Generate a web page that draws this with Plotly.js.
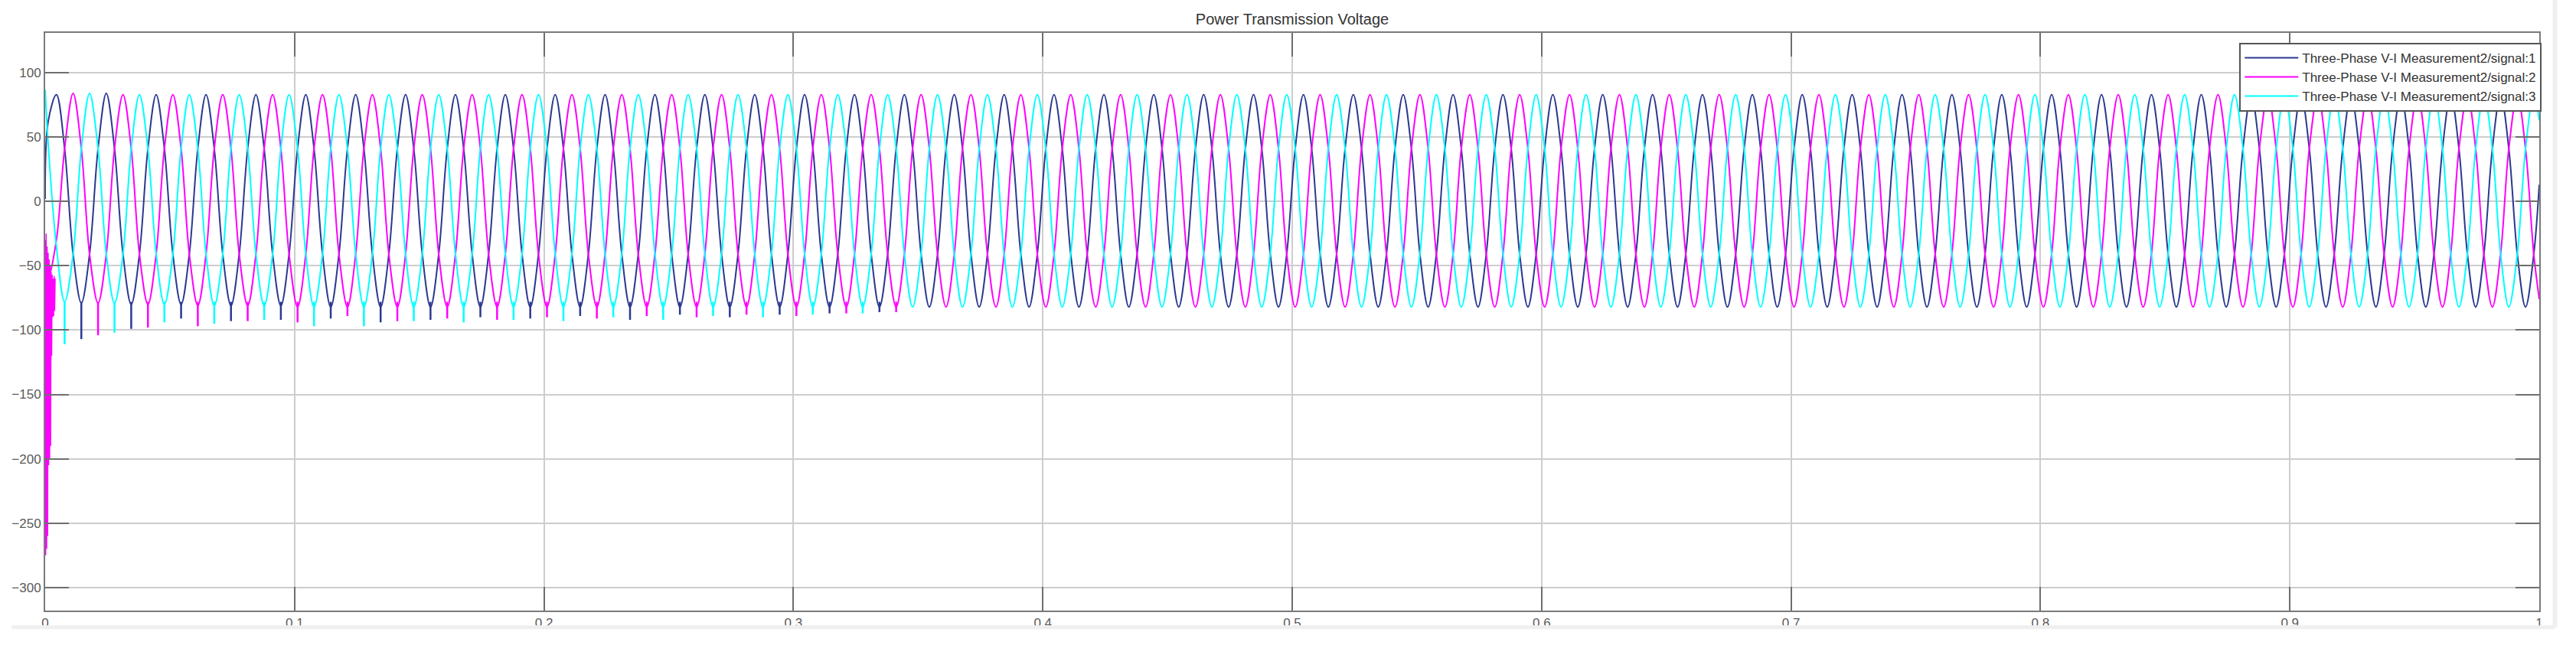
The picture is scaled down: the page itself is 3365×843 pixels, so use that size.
<!DOCTYPE html>
<html>
<head>
<meta charset="utf-8">
<script src="https://cdn.plot.ly/plotly-3.0.1.min.js"></script>
<style>
  html, body { margin: 0; padding: 0; background: #fff; }
  #chart { width: 3365px; height: 843px; }
</style>
</head>
<body>
<div id="chart"></div>
<script>
// Power Transmission Voltage - scope capture, three phases
// samples every 1/6 cycle (50 Hz)

var time = [0,
  0.0012,0.0045,0.0078,0.0112,0.0145,0.0178,0.0212,0.0245,0.0278,0.0312,0.0345,0.0378,0.0412,0.0445,0.0478,0.0512,0.0545,0.0578,0.0612,0.0645,0.0678,0.0712,0.0745,0.0778,0.0812,0.0845,0.0878,0.0912,0.0945,0.0978,
  0.1012,0.1045,0.1078,0.1112,0.1145,0.1178,0.1212,0.1245,0.1278,0.1312,0.1345,0.1378,0.1412,0.1445,0.1478,0.1512,0.1545,0.1578,0.1612,0.1645,0.1678,0.1712,0.1745,0.1778,0.1812,0.1845,0.1878,0.1912,0.1945,0.1978,
  0.2012,0.2045,0.2078,0.2112,0.2145,0.2178,0.2212,0.2245,0.2278,0.2312,0.2345,0.2378,0.2412,0.2445,0.2478,0.2512,0.2545,0.2578,0.2612,0.2645,0.2678,0.2712,0.2745,0.2778,0.2812,0.2845,0.2878,0.2912,0.2945,0.2978,
  0.3012,0.3045,0.3078,0.3112,0.3145,0.3178,0.3212,0.3245,0.3278,0.3312,0.3345,0.3378,0.3412,0.3445,0.3478,0.3512,0.3545,0.3578,0.3612,0.3645,0.3678,0.3712,0.3745,0.3778,0.3812,0.3845,0.3878,0.3912,0.3945,0.3978,
  0.4012,0.4045,0.4078,0.4112,0.4145,0.4178,0.4212,0.4245,0.4278,0.4312,0.4345,0.4378,0.4412,0.4445,0.4478,0.4512,0.4545,0.4578,0.4612,0.4645,0.4678,0.4712,0.4745,0.4778,0.4812,0.4845,0.4878,0.4912,0.4945,0.4978,
  0.5012,0.5045,0.5078,0.5112,0.5145,0.5178,0.5212,0.5245,0.5278,0.5312,0.5345,0.5378,0.5412,0.5445,0.5478,0.5512,0.5545,0.5578,0.5612,0.5645,0.5678,0.5712,0.5745,0.5778,0.5812,0.5845,0.5878,0.5912,0.5945,0.5978,
  0.6012,0.6045,0.6078,0.6112,0.6145,0.6178,0.6212,0.6245,0.6278,0.6312,0.6345,0.6378,0.6412,0.6445,0.6478,0.6512,0.6545,0.6578,0.6612,0.6645,0.6678,0.6712,0.6745,0.6778,0.6812,0.6845,0.6878,0.6912,0.6945,0.6978,
  0.7012,0.7045,0.7078,0.7112,0.7145,0.7178,0.7212,0.7245,0.7278,0.7312,0.7345,0.7378,0.7412,0.7445,0.7478,0.7512,0.7545,0.7578,0.7612,0.7645,0.7678,0.7712,0.7745,0.7778,0.7812,0.7845,0.7878,0.7912,0.7945,0.7978,
  0.8012,0.8045,0.8078,0.8112,0.8145,0.8178,0.8212,0.8245,0.8278,0.8312,0.8345,0.8378,0.8412,0.8445,0.8478,0.8512,0.8545,0.8578,0.8612,0.8645,0.8678,0.8712,0.8745,0.8778,0.8812,0.8845,0.8878,0.8912,0.8945,0.8978,
  0.9012,0.9045,0.9078,0.9112,0.9145,0.9178,0.9212,0.9245,0.9278,0.9312,0.9345,0.9378,0.9412,0.9445,0.9478,0.9512,0.9545,0.9578,0.9612,0.9645,0.9678,0.9712,0.9745,0.9778,0.9812,0.9845,0.9878,0.9912,0.9945,0.9978,
  1];

var signal1 = [2,
  62,83,41,-41,-79,-41,41,84,41,-41,-80,-41,41,83,41,-41,-80,-41,41,83,41,-41,-81,-41,41,83,41,-41,-81,-41,
  41,83,41,-41,-82,-41,41,83,41,-41,-82,-41,41,83,41,-41,-82,-41,41,83,41,-41,-82,-41,41,83,41,-41,-82,-41,
  41,83,41,-41,-82,-41,41,83,41,-41,-82,-41,41,83,41,-41,-82,-41,41,83,41,-41,-82,-41,41,83,41,-41,-82,-41,
  41,83,41,-41,-82,-41,41,83,41,-41,-82,-41,41,83,41,-41,-82,-41,41,83,41,-41,-82,-41,41,83,41,-41,-82,-41,
  41,83,41,-41,-82,-41,41,83,41,-41,-82,-41,41,83,41,-41,-82,-41,41,83,41,-41,-82,-41,41,83,41,-41,-82,-41,
  41,83,41,-41,-82,-41,41,83,41,-41,-82,-41,41,83,41,-41,-82,-41,41,83,41,-41,-82,-41,41,83,41,-41,-82,-41,
  41,83,41,-41,-82,-41,41,83,41,-41,-82,-41,41,83,41,-41,-82,-41,41,83,41,-41,-82,-41,41,83,41,-41,-82,-41,
  41,83,41,-41,-82,-41,41,83,41,-41,-82,-41,41,83,41,-41,-82,-41,41,83,41,-41,-82,-41,41,83,41,-41,-82,-41,
  41,83,41,-41,-82,-41,41,83,41,-41,-82,-41,41,83,41,-41,-82,-41,41,83,41,-41,-82,-41,41,83,41,-41,-82,-41,
  41,83,41,-41,-82,-41,41,83,41,-41,-82,-41,41,83,41,-41,-82,-41,41,83,41,-41,-82,-41,41,83,41,-41,-82,-41,
  13];

var signal2 = [-30,
  -60,-30,41,84,41,-41,-79,-41,41,83,41,-41,-80,-41,41,83,41,-41,-81,-41,41,83,41,-41,-81,-41,41,83,41,-41,
  -82,-41,41,83,41,-41,-82,-41,41,83,41,-41,-82,-41,41,83,41,-41,-82,-41,41,83,41,-41,-82,-41,41,83,41,-41,
  -82,-41,41,83,41,-41,-82,-41,41,83,41,-41,-82,-41,41,83,41,-41,-82,-41,41,83,41,-41,-82,-41,41,83,41,-41,
  -82,-41,41,83,41,-41,-82,-41,41,83,41,-41,-82,-41,41,83,41,-41,-82,-41,41,83,41,-41,-82,-41,41,83,41,-41,
  -82,-41,41,83,41,-41,-82,-41,41,83,41,-41,-82,-41,41,83,41,-41,-82,-41,41,83,41,-41,-82,-41,41,83,41,-41,
  -82,-41,41,83,41,-41,-82,-41,41,83,41,-41,-82,-41,41,83,41,-41,-82,-41,41,83,41,-41,-82,-41,41,83,41,-41,
  -82,-41,41,83,41,-41,-82,-41,41,83,41,-41,-82,-41,41,83,41,-41,-82,-41,41,83,41,-41,-82,-41,41,83,41,-41,
  -82,-41,41,83,41,-41,-82,-41,41,83,41,-41,-82,-41,41,83,41,-41,-82,-41,41,83,41,-41,-82,-41,41,83,41,-41,
  -82,-41,41,83,41,-41,-82,-41,41,83,41,-41,-82,-41,41,83,41,-41,-82,-41,41,83,41,-41,-82,-41,41,83,41,-41,
  -82,-41,41,83,41,-41,-82,-41,41,83,41,-41,-82,-41,41,83,41,-41,-82,-41,41,83,41,-41,-82,-41,41,83,41,-41,
  -76];

var signal3 = [87,
  45,-35,-78,-41,41,84,41,-41,-79,-41,41,83,41,-41,-80,-41,41,83,41,-41,-81,-41,41,83,41,-41,-81,-41,41,83,
  41,-41,-82,-41,41,83,41,-41,-82,-41,41,83,41,-41,-82,-41,41,83,41,-41,-82,-41,41,83,41,-41,-82,-41,41,83,
  41,-41,-82,-41,41,83,41,-41,-82,-41,41,83,41,-41,-82,-41,41,83,41,-41,-82,-41,41,83,41,-41,-82,-41,41,83,
  41,-41,-82,-41,41,83,41,-41,-82,-41,41,83,41,-41,-82,-41,41,83,41,-41,-82,-41,41,83,41,-41,-82,-41,41,83,
  41,-41,-82,-41,41,83,41,-41,-82,-41,41,83,41,-41,-82,-41,41,83,41,-41,-82,-41,41,83,41,-41,-82,-41,41,83,
  41,-41,-82,-41,41,83,41,-41,-82,-41,41,83,41,-41,-82,-41,41,83,41,-41,-82,-41,41,83,41,-41,-82,-41,41,83,
  41,-41,-82,-41,41,83,41,-41,-82,-41,41,83,41,-41,-82,-41,41,83,41,-41,-82,-41,41,83,41,-41,-82,-41,41,83,
  41,-41,-82,-41,41,83,41,-41,-82,-41,41,83,41,-41,-82,-41,41,83,41,-41,-82,-41,41,83,41,-41,-82,-41,41,83,
  41,-41,-82,-41,41,83,41,-41,-82,-41,41,83,41,-41,-82,-41,41,83,41,-41,-82,-41,41,83,41,-41,-82,-41,41,83,
  41,-41,-82,-41,41,83,41,-41,-82,-41,41,83,41,-41,-82,-41,41,83,41,-41,-82,-41,41,83,41,-41,-82,-41,41,83,
  63];

// switching transient on signal 2 right after t = 0
var startT = [0,0.0002,0.0004,0.0006,0.0008,0.001,0.0012,0.0014,0.0016,0.0018,0.002,0.0022,0.0024,0.0026,0.0028,0.003,0.0032,0.0034,0.0036,0.0038,0.004];
var startV2 = [-30,-275,-25,-270,-35,-260,-40,-205,-45,-200,-50,-190,-55,-120,-57,-90,-60,-89,-58,-85,-60];

// needle-like dips at the bottom of early troughs
var dipT1 = [0.0145,0.0345,0.0545,0.0745,0.0945,0.1145,0.1345,0.1545,0.1745,0.1945,0.2145,0.2345,0.2545,0.2745,0.2945,0.3145,0.3345];
var dipV1 = [-107,-99,-91,-93,-92,-91,-94,-92,-90,-91,-89,-92,-88,-90,-88,-87,-86];
var dipT2 = [0.0212,0.0412,0.0612,0.0812,0.1012,0.1212,0.1412,0.1612,0.1812,0.2012,0.2212,0.2412,0.2612,0.2812,0.3012,0.3212,0.3412];
var dipV2 = [-104,-98,-97,-93,-94,-89,-93,-91,-92,-90,-91,-89,-90,-88,-89,-87,-86];
var dipT3 = [0.0078,0.0278,0.0478,0.0678,0.0878,0.1078,0.1278,0.1478,0.1678,0.1878,0.2078,0.2278,0.2478,0.2678,0.2878,0.3078,0.3278];
var dipV3 = [-111,-102,-94,-95,-92,-97,-97,-93,-94,-92,-93,-90,-92,-89,-90,-88,-87];

var names = ['Three-Phase V-I Measurement2/signal:1','Three-Phase V-I Measurement2/signal:2','Three-Phase V-I Measurement2/signal:3'];
var colors = ['#2b3990','#ff00ff','#00ffff'];

var xTicks = [0,0.1,0.2,0.3,0.4,0.5,0.6,0.7,0.8,0.9,1];
var xLabels = ['0','0.1','0.2','0.3','0.4','0.5','0.6','0.7','0.8','0.9','1'];
var yTicks = [100,50,0,-50,-100,-150,-200,-250,-300];

function dips(ts, vs, color) {
    var x = [], y = [];
    for (var i = 0; i < ts.length; i++) {
        x.push(ts[i], ts[i], null);
        y.push(-78, vs[i], null);
    }
    return {x:x, y:y, mode:'lines', type:'scatter', showlegend:false, hoverinfo:'skip',
            line:{color:color, width:2.5}};
}

var data = [
    {x:time, y:signal1, name:names[0], mode:'lines', type:'scatter', line:{color:colors[0], width:2, shape:'spline', smoothing:1}},
    {x:time, y:signal2, name:names[1], mode:'lines', type:'scatter', line:{color:colors[1], width:2, shape:'spline', smoothing:1}},
    {x:time, y:signal3, name:names[2], mode:'lines', type:'scatter', line:{color:colors[2], width:2, shape:'spline', smoothing:1}},
    {x:startT, y:startV2, mode:'lines', type:'scatter', showlegend:false, hoverinfo:'skip', line:{color:colors[1], width:1.5}},
    dips(dipT1, dipV1, colors[0]),
    dips(dipT2, dipV2, colors[1]),
    dips(dipT3, dipV3, colors[2])
];

var axisStyle = {
    showline:true, linecolor:'#7a7a7a', linewidth:2, mirror:'ticks',
    ticks:'inside', ticklen:31, tickwidth:2, tickcolor:'#6e6e6e',
    showgrid:true, gridcolor:'#cdcdcd', gridwidth:2, zeroline:false,
    tickfont:{family:'Liberation Sans, Arial, sans-serif', size:17, color:'#5a5a5a'}
};

var layout = {
    width:3365, height:843,
    margin:{l:59, r:48, t:43, b:45},
    paper_bgcolor:'#ffffff', plot_bgcolor:'#ffffff',
    title:{text:'Power Transmission Voltage', xref:'paper', x:0.5, yref:'container', y:0.970, yanchor:'middle',
           font:{family:'Liberation Sans, Arial, sans-serif', size:20, color:'#333333'}},
    xaxis:Object.assign({}, axisStyle, {range:[0,1], tickmode:'array', tickvals:xTicks, ticktext:xLabels}),
    yaxis:Object.assign({}, axisStyle, {range:[-318,131], tickmode:'array', tickvals:yTicks}),
    showlegend:true,
    legend:{x:1.001, xanchor:'right', y:0.983, yanchor:'top', bgcolor:'#ffffff',
            bordercolor:'#555555', borderwidth:2, itemwidth:70, tracegroupgap:0,
            font:{family:'Liberation Sans, Arial, sans-serif', size:17, color:'#333333'}},
    shapes:[
        {type:'line', xref:'paper', yref:'paper', x0:1.0063, x1:1.0063, y0:-0.0287, y1:1.06, line:{color:'#efefef', width:6}},
        {type:'line', xref:'paper', yref:'paper', x0:-0.0134, x1:1.0063, y0:-0.0287, y1:-0.0287, line:{color:'#efefef', width:5}}
    ]
};

Plotly.newPlot('chart', data, layout, {displayModeBar:false});
</script>
</body>
</html>
